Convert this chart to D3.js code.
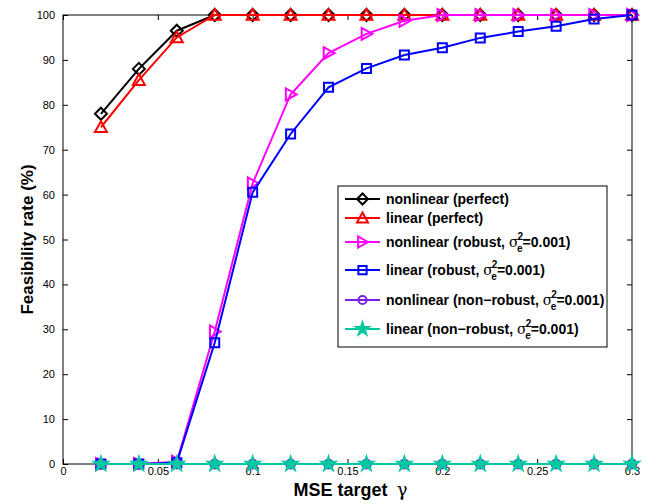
<!DOCTYPE html>
<html>
<head>
<meta charset="utf-8">
<script src="https://cdn.jsdelivr.net/npm/d3@7"></script>
<style>
body { margin: 0; background: #fff; }
text { font-family: Arial, "Liberation Sans", Helvetica, sans-serif; }
</style>
</head>
<body>
<script>
// data
const gammas = [0.02, 0.04, 0.06, 0.08, 0.10, 0.12, 0.14, 0.16, 0.18, 0.20, 0.22, 0.24, 0.26, 0.28, 0.30];
const nonlinearPerfect = [78, 88, 96.5, 100, 100, 100, 100, 100, 100, 100, 100, 100, 100, 100, 100];
const linearPerfect = [75, 85.5, 95, 100, 100, 100, 100, 100, 100, 100, 100, 100, 100, 100, 100];
const nonlinearRobust = [0, 0, 0.5, 29.5, 62.5, 82.3, 91.5, 95.8, 98.7, 100, 100, 100, 100, 100, 100];
const linearRobust = [0, 0, 0.3, 27, 60.5, 73.5, 83.9, 88.1, 91.1, 92.7, 94.9, 96.3, 97.5, 99.1, 100];
const nonlinearNonRobust = [0, 0, 0, 0, 0, 0, 0, 0, 0, 0, 0, 0, 0, 0, 0];
const linearNonRobust = [0, 0, 0, 0, 0, 0, 0, 0, 0, 0, 0, 0, 0, 0, 0];
const xTicks = [0, 0.05, 0.1, 0.15, 0.2, 0.25, 0.3];
const yTicks = [0, 10, 20, 30, 40, 50, 60, 70, 80, 90, 100];

const series = [
    {name: "nonlinear (perfect)", values: nonlinearPerfect, color: "#000000", marker: "diamond"},
    {name: "linear (perfect)", values: linearPerfect, color: "#ff0000", marker: "triUp"},
    {name: "nonlinear (robust, ", sigma: true, values: nonlinearRobust, color: "#ff00ff", marker: "triRight"},
    {name: "linear (robust, ", sigma: true, values: linearRobust, color: "#0000ff", marker: "square"},
    {name: "nonlinear (non\u2212robust, ", sigma: true, values: nonlinearNonRobust, color: "#7a1fe0", marker: "circle"},
    {name: "linear (non\u2212robust, ", sigma: true, values: linearNonRobust, color: "#00c8a0", marker: "star"}
];

const W = 657, H = 504;
const margin = {top: 15, left: 63, right: 25, bottom: 40};
const width = W - margin.left - margin.right;
const height = H - margin.top - margin.bottom;

const svg = d3.select("body").append("svg")
    .attr("width", W)
    .attr("height", H);

const g = svg.append("g")
    .attr("transform", `translate(${margin.left},${margin.top})`);

const x = d3.scaleLinear().domain([0, 0.3]).range([0, width]);
const y = d3.scaleLinear().domain([0, 100]).range([height, 0]);

// axes with inward ticks
const fmtX = d => d === 0 ? "0" : String(d);
g.append("g")
    .attr("transform", `translate(0,${height})`)
    .call(d3.axisBottom(x).tickValues(xTicks).tickFormat(fmtX).tickSizeInner(-5).tickSizeOuter(0).tickPadding(3))
    .call(a => a.select(".domain").remove());
g.append("g")
    .call(d3.axisTop(x).tickValues(xTicks).tickFormat("").tickSizeInner(-5).tickSizeOuter(0))
    .call(a => a.select(".domain").remove());
g.append("g")
    .call(d3.axisLeft(y).tickValues(yTicks).tickSizeInner(-5).tickSizeOuter(0).tickPadding(8))
    .call(a => a.select(".domain").remove());
g.append("g")
    .attr("transform", `translate(${width},0)`)
    .call(d3.axisRight(y).tickValues(yTicks).tickFormat("").tickSizeInner(-5).tickSizeOuter(0))
    .call(a => a.select(".domain").remove());
g.selectAll(".tick text").attr("font-size", 11).attr("font-family", "Arial, 'Liberation Sans', sans-serif").attr("fill", "#000");
g.selectAll(".tick line").attr("stroke", "#000");

g.append("rect")
    .attr("width", width).attr("height", height)
    .attr("fill", "none").attr("stroke", "#000").attr("stroke-width", 1);

// markers
function markerPath(type, s) {
    switch (type) {
        case "diamond": return `M0,${-s}L${s},0L0,${s}L${-s},0Z`;
        case "triUp": return `M0,${-s}L${s},${s*0.8}L${-s},${s*0.8}Z`;
        case "triRight": return `M${s},0L${-s*0.8},${-s}L${-s*0.8},${s}Z`;
        case "square": return `M${-s*0.75},${-s*0.75}H${s*0.75}V${s*0.75}H${-s*0.75}Z`;
        case "circle": return d3.symbol(d3.symbolCircle, Math.PI * s * s * 0.55)();
        case "star": return d3.symbol(d3.symbolStar, s * s * 1.6)();
    }
}

const line = d3.line().x((d, i) => x(gammas[i])).y(d => y(d));

series.forEach(s => {
    const sg = g.append("g");
    sg.append("path")
        .datum(s.values)
        .attr("d", line)
        .attr("fill", "none")
        .attr("stroke", s.color)
        .attr("stroke-width", 2);
    sg.selectAll("path.mk")
        .data(s.values)
        .enter().append("path")
        .attr("class", "mk")
        .attr("transform", (d, i) => `translate(${x(gammas[i])},${y(d)})`)
        .attr("d", markerPath(s.marker, 6))
        .attr("fill", s.marker === "star" ? s.color : "none")
        .attr("stroke", s.color)
        .attr("stroke-width", 2);
});

// axis labels
const xl = svg.append("text")
    .attr("x", margin.left + width / 2 + 3)
    .attr("y", 496)
    .attr("text-anchor", "middle")
    .attr("font-size", 18)
    .attr("font-weight", "bold")
    .text("MSE target");
xl.append("tspan")
    .attr("dx", 9)
    .attr("font-weight", "normal")
    .attr("font-family", "'DejaVu Serif', serif")
    .text("\u03b3");

svg.append("text")
    .attr("transform", `translate(33,${margin.top + height / 2}) rotate(-90)`)
    .attr("text-anchor", "middle")
    .attr("font-size", 17)
    .attr("font-weight", "bold")
    .text("Feasibility rate (%)");

// legend
const legend = svg.append("g").attr("transform", "translate(338,186)");
legend.append("rect")
    .attr("width", 269).attr("height", 161)
    .attr("fill", "#fff").attr("stroke", "#000").attr("stroke-width", 1);

const legendY = [13, 32, 56, 84, 114, 143];
series.forEach((s, i) => {
    const ly = legendY[i];
    const row = legend.append("g").attr("transform", `translate(0,${ly})`);
    row.append("line")
        .attr("x1", 7).attr("x2", 42)
        .attr("stroke", s.color).attr("stroke-width", 2);
    row.append("path")
        .attr("transform", "translate(24.5,0)")
        .attr("d", markerPath(s.marker, 5.5))
        .attr("fill", s.marker === "star" ? s.color : "none")
        .attr("stroke", s.color).attr("stroke-width", 2);
    const t = row.append("text")
        .attr("x", 48).attr("y", 5)
        .attr("font-size", 14)
        .attr("font-weight", "bold")
        .text(s.name);
    if (s.sigma) {
        t.append("tspan").attr("font-weight", "normal").attr("font-family", "'DejaVu Serif', serif").text("\u03c3");
        t.append("tspan").attr("font-size", 10).attr("dy", -7).attr("dx", -1).text("2");
        t.append("tspan").attr("font-size", 10).attr("dy", 12).attr("dx", -6).text("e");
        t.append("tspan").attr("dy", -5).text("=0.001)");
    }
});
</script>
</body>
</html>
